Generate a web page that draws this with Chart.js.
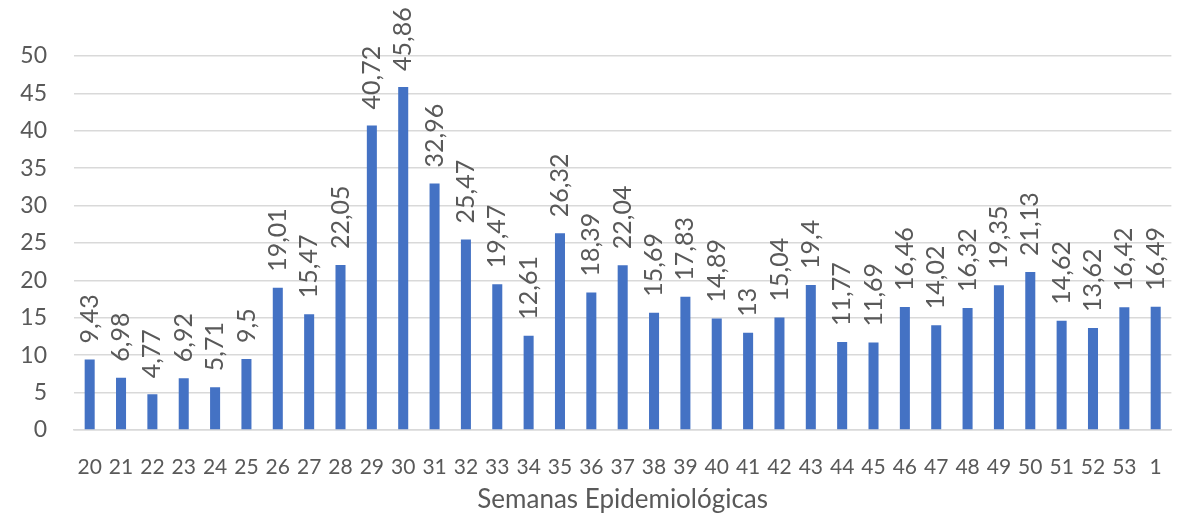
<!DOCTYPE html>
<html>
<head>
<meta charset="utf-8">
<script src="https://cdn.jsdelivr.net/npm/chart.js@4"></script>
<style>
  html, body { margin: 0; padding: 0; background: #fff; }
  #wrap { width: 1187px; height: 517px; }
</style>
</head>
<body>
<div id="wrap"><canvas id="bar-chart" width="1187" height="517"></canvas></div>
<script>
const weeks = ["20","21","22","23","24","25","26","27","28","29","30","31","32","33","34","35","36","37","38","39","40","41","42","43","44","45","46","47","48","49","50","51","52","53","1"];
const rates = [9.43,6.98,4.77,6.92,5.71,9.5,19.01,15.47,22.05,40.72,45.86,32.96,25.47,19.47,12.61,26.32,18.39,22.04,15.69,17.83,14.89,13,15.04,19.4,11.77,11.69,16.46,14.02,16.32,19.35,21.13,14.62,13.62,16.42,16.49];
const yTicks = [0,5,10,15,20,25,30,35,40,45,50];
const xTitle = "Semanas Epidemiológicas";

const textColor = "#595959";
const fontFamily = "Lato, 'Open Sans', sans-serif";

// rotated value labels above each bar, decimal comma
const valueLabels = {
  id: "valueLabels",
  afterDatasetsDraw(chart) {
    const ctx = chart.ctx;
    const meta = chart.getDatasetMeta(0);
    ctx.save();
    ctx.fillStyle = textColor;
    ctx.font = "25px " + fontFamily;
    ctx.textAlign = "left";
    ctx.textBaseline = "middle";
    meta.data.forEach((bar, i) => {
      const txt = String(rates[i]).replace(".", ",");
      ctx.save();
      ctx.translate(bar.x, bar.y - 16);
      ctx.rotate(-Math.PI / 2);
      ctx.fillText(txt, 0, 0);
      ctx.restore();
    });
    ctx.restore();
  }
};

new Chart(document.getElementById("bar-chart").getContext("2d"), {
  type: "bar",
  data: {
    labels: weeks,
    datasets: [{
      data: rates,
      backgroundColor: "#4472c4",
      barPercentage: 0.32,
      categoryPercentage: 1.0
    }]
  },
  options: {
    responsive: false,
    animation: false,
    layout: { padding: { top: 56, left: 20, right: 15, bottom: 2 } },
    plugins: { legend: { display: false }, tooltip: { enabled: false } },
    scales: {
      y: {
        min: 0,
        max: 50,
        afterBuildTicks(axis) { axis.ticks = yTicks.map(v => ({ value: v })); },
        afterFit(axis) { axis.width = 54; },
        grid: { color: "#d9d9d9", lineWidth: 1.5, drawTicks: false },
        border: { display: false },
        ticks: { color: textColor, padding: 27, font: { family: fontFamily, size: 23 } }
      },
      x: {
        afterFit(axis) { axis.height = 85; },
        grid: { display: false, drawTicks: false },
        border: { color: "#d9d9d9", width: 1.5 },
        ticks: { color: textColor, padding: 25, maxRotation: 0, autoSkip: false, font: { family: fontFamily, size: 21 } },
        title: { display: true, text: xTitle, color: textColor, padding: { top: 6, bottom: 0 }, font: { family: fontFamily, size: 26 } }
      }
    }
  },
  plugins: [valueLabels]
});
</script>
</body>
</html>
